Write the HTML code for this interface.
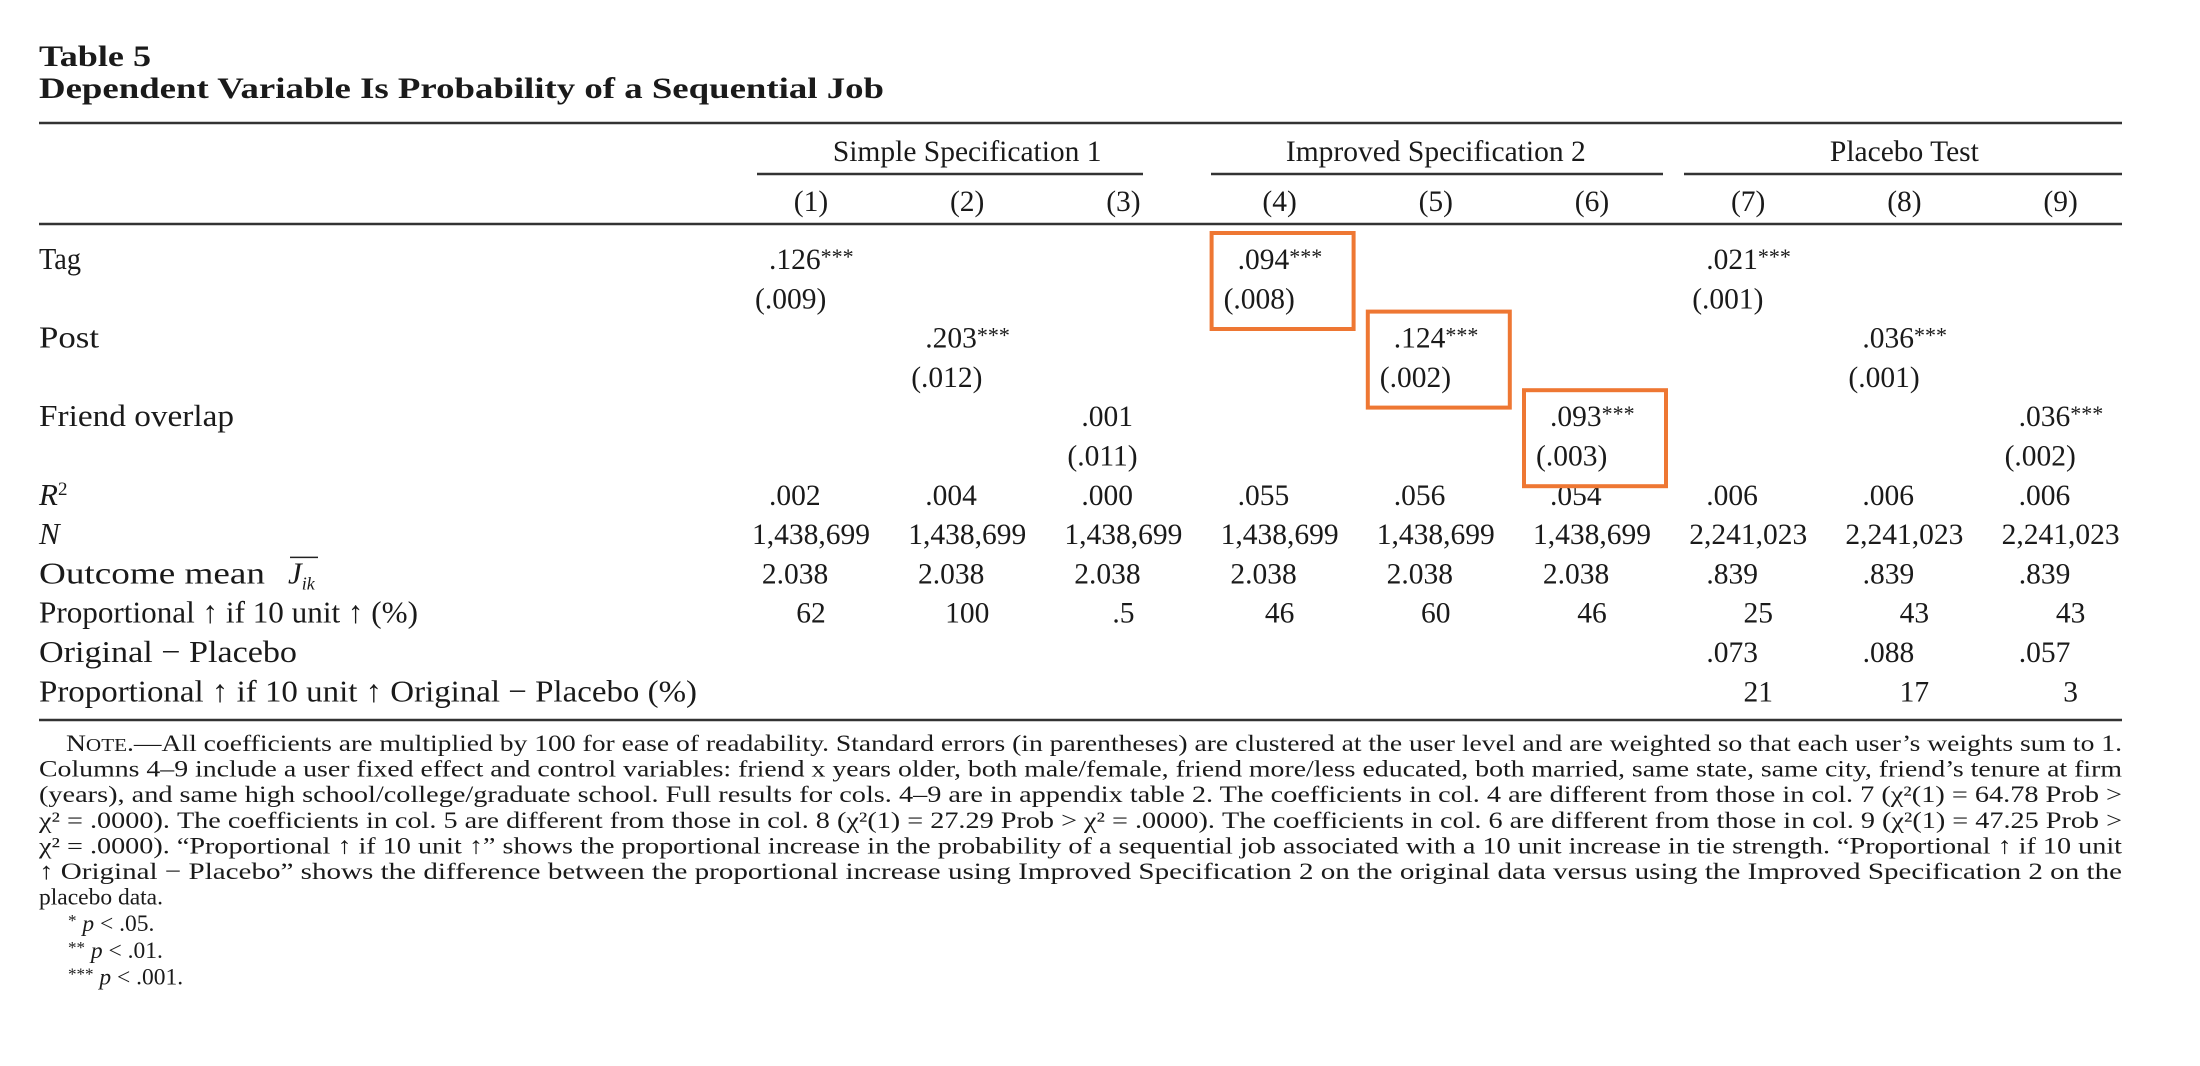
<!DOCTYPE html>
<html><head><meta charset="utf-8"><style>
html,body{margin:0;padding:0;background:#fff;}
svg{display:block;font-family:"Liberation Serif",serif;fill:#1a1a1a;}
</style></head><body>
<svg id="tbl" width="2200" height="1066" viewBox="0 0 2200 1066" xmlns="http://www.w3.org/2000/svg">
<text x="39" y="66" font-size="30" font-weight="bold" textLength="112" lengthAdjust="spacingAndGlyphs">Table 5</text>
<text x="39" y="98" font-size="30" font-weight="bold" textLength="845" lengthAdjust="spacingAndGlyphs">Dependent Variable Is Probability of a Sequential Job</text>
<line x1="39" x2="2122" y1="123" y2="123" stroke="#333" stroke-width="2.5"/>
<line x1="39" x2="2122" y1="224" y2="224" stroke="#333" stroke-width="2.5"/>
<line x1="39" x2="2122" y1="720" y2="720" stroke="#333" stroke-width="2.5"/>
<g id="groups"></g><g id="cells"></g><g id="boxes"></g><g id="notes"></g>
</svg>
<script>
const NS="http://www.w3.org/2000/svg";
const groupNames=["Simple Specification 1","Improved Specification 2","Placebo Test"];
const groupSpans=[[1,3],[4,6],[7,9]];
const colLabels=["(1)","(2)","(3)","(4)","(5)","(6)","(7)","(8)","(9)"];
const rowLabels=["Tag","Post","Friend overlap"];
const coefs=[[".126","",""],["",".203",""],["","",".001"],[".094","",""],["",".124",""],["","",".093"],[".021","",""],["",".036",""],["","",".036"]];
const ses=[["(.009)","",""],["","(.012)",""],["","","(.011)"],["(.008)","",""],["","(.002)",""],["","","(.003)"],["(.001)","",""],["","(.001)",""],["","","(.002)"]];
const stars=[["***","",""],["","***",""],["","",""],["***","",""],["","***",""],["","","***"],["***","",""],["","***",""],["","","***"]];
const r2=[".002",".004",".000",".055",".056",".054",".006",".006",".006"];
const nObs=["1,438,699","1,438,699","1,438,699","1,438,699","1,438,699","1,438,699","2,241,023","2,241,023","2,241,023"];
const outcomeMean=["2.038","2.038","2.038","2.038","2.038","2.038",".839",".839",".839"];
const propUp=["62","100",".5","46","60","46","25","43","43"];
const origMinusPlacebo=["","","","","","",".073",".088",".057"];
const propDiff=["","","","","","","21","17","3"];
const highlighted=[[4,0],[5,1],[6,2]];
const noteLines=["Columns 4–9 include a user fixed effect and control variables: friend x years older, both male/female, friend more/less educated, both married, same state, same city, friend’s tenure at firm","(years), and same high school/college/graduate school. Full results for cols. 4–9 are in appendix table 2. The coefficients in col. 4 are different from those in col. 7 (χ²(1) = 64.78 Prob >","χ² = .0000). The coefficients in col. 5 are different from those in col. 8 (χ²(1) = 27.29 Prob > χ² = .0000). The coefficients in col. 6 are different from those in col. 9 (χ²(1) = 47.25 Prob >","χ² = .0000). “Proportional ↑ if 10 unit ↑” shows the proportional increase in the probability of a sequential job associated with a 10 unit increase in tie strength. “Proportional ↑ if 10 unit","↑ Original − Placebo” shows the difference between the proportional increase using Improved Specification 2 on the original data versus using the Improved Specification 2 on the"];

const colX=c=>811+(c-1)*156.2;
const rowY=r=>269+r*39.3;
const FS=29.5;
const LS=31;
function T(parent,x,y,s,size,anchor,name){const t=document.createElementNS(NS,'text');t.setAttribute('x',x);t.setAttribute('y',y);t.setAttribute('font-size',size);if(anchor)t.setAttribute('text-anchor',anchor);t.textContent=s;


parent.appendChild(t);return t;}
function fit(t,w){t.setAttribute('textLength',w);t.setAttribute('lengthAdjust','spacingAndGlyphs');return t;}
const G=id=>document.getElementById(id);
const lineSpans=[[757,1143],[1211,1663],[1684,2122]];
groupNames.forEach((g,i)=>{const a=colX(groupSpans[i][0]),b=colX(groupSpans[i][1]);
T(G('groups'),(a+b)/2,161,g,FS,'middle','group-header');
const l=document.createElementNS(NS,'line');l.setAttribute('x1',lineSpans[i][0]);l.setAttribute('x2',lineSpans[i][1]);l.setAttribute('y1',174);l.setAttribute('y2',174);l.setAttribute('stroke','#333');l.setAttribute('stroke-width','2.5');


G('groups').appendChild(l);});
colLabels.forEach((c,i)=>T(G('cells'),colX(i+1),211,c,FS,'middle','column-number'));
const C=G('cells');
const labW=[42,60,195];
rowLabels.forEach((r,i)=>fit(T(C,39,rowY(i*2),r,LS,null,'row-label'),labW[i]));
T(C,39,rowY(6),"",LS,null,'row-label').innerHTML='<tspan font-style="italic">R</tspan><tspan dy="-10" font-size="19">2</tspan>';
T(C,39,rowY(7),"",LS,null,'row-label').innerHTML='<tspan font-style="italic">N</tspan>';
fit(T(C,39,rowY(8),"Outcome mean",LS,null,'row-label'),226);
T(C,288,rowY(8),"",LS,null,'row-label').innerHTML='<tspan font-style="italic">J</tspan><tspan font-style="italic" font-size="18" dy="6">ik</tspan>';
const ol=document.createElementNS(NS,'line');ol.setAttribute('x1',290);ol.setAttribute('x2',318);ol.setAttribute('y1',rowY(8)-26);ol.setAttribute('y2',rowY(8)-26);ol.setAttribute('stroke','#222');ol.setAttribute('stroke-width','1.5');


C.appendChild(ol);
fit(T(C,39,rowY(9),"Proportional ↑ if 10 unit ↑ (%)",LS,null,'row-label'),379);
fit(T(C,39,rowY(10),"Original − Placebo",LS,null,'row-label'),258);
fit(T(C,39,rowY(11),"Proportional ↑ if 10 unit ↑ Original − Placebo (%)",LS,null,'row-label'),658);
for(let c=0;c<9;c++){const x=colX(c+1);
 for(let r=0;r<3;r++){ if(coefs[c][r]){const t=T(C,x-42,rowY(r*2),coefs[c][r],FS,null,'coefficient');
   const s=document.createElementNS(NS,'tspan');s.setAttribute('font-size','22');s.setAttribute('dy','-5');s.textContent=stars[c][r];t.appendChild(s);}
  if(ses[c][r])T(C,x-56,rowY(r*2+1),ses[c][r],FS,null,'standard-error');}
 T(C,x-42,rowY(6),r2[c],FS,null,'r-squared');
 T(C,x,rowY(7),nObs[c],FS,'middle','n-obs');
 T(C,x-16,rowY(8),outcomeMean[c],FS,'middle','outcome-mean');
 T(C,x+(c>=6?10:0),rowY(9),propUp[c],FS,'middle','proportional-increase');
 if(origMinusPlacebo[c])T(C,x-16,rowY(10),origMinusPlacebo[c],FS,'middle','original-minus-placebo');
 if(propDiff[c])T(C,x+10,rowY(11),propDiff[c],FS,'middle','proportional-difference');
}
highlighted.forEach(h=>{const x=colX(h[0]),r=h[1]*2;const b=document.createElementNS(NS,'rect');
b.setAttribute('x',x-68);b.setAttribute('y',rowY(r)-36);b.setAttribute('width',142);b.setAttribute('height',96);
b.setAttribute('fill','none');b.setAttribute('stroke','#ee7733');b.setAttribute('stroke-width','4');


G('boxes').appendChild(b);});
const N=G('notes');const ny=i=>751+i*25.6;const NF=23.5;
const t0=T(N,66,ny(0),"",NF,null,'note-text');t0.setAttribute('textLength',2056);t0.setAttribute('lengthAdjust','spacingAndGlyphs');
t0.innerHTML='N<tspan font-size="18">OTE</tspan>.—All coefficients are multiplied by 100 for ease of readability. Standard errors (in parentheses) are clustered at the user level and are weighted so that each user’s weights sum to 1.';
noteLines.forEach((l,i)=>{const t=T(N,39,ny(i+1),l,NF,null,'note-text');t.setAttribute('textLength',2083);t.setAttribute('lengthAdjust','spacingAndGlyphs');});
T(N,39,ny(6),"placebo data.",NF,null,'note-text');
T(N,68,ny(7)+1,"",NF,null,'significance-note').innerHTML='<tspan font-size="17" dy="-5">*</tspan><tspan dy="5" font-style="italic"> p</tspan> &lt; .05.';
T(N,68,ny(8)+2,"",NF,null,'significance-note').innerHTML='<tspan font-size="17" dy="-5">**</tspan><tspan dy="5" font-style="italic"> p</tspan> &lt; .01.';
T(N,68,ny(9)+3,"",NF,null,'significance-note').innerHTML='<tspan font-size="17" dy="-5">***</tspan><tspan dy="5" font-style="italic"> p</tspan> &lt; .001.';
</script>
</body></html>
